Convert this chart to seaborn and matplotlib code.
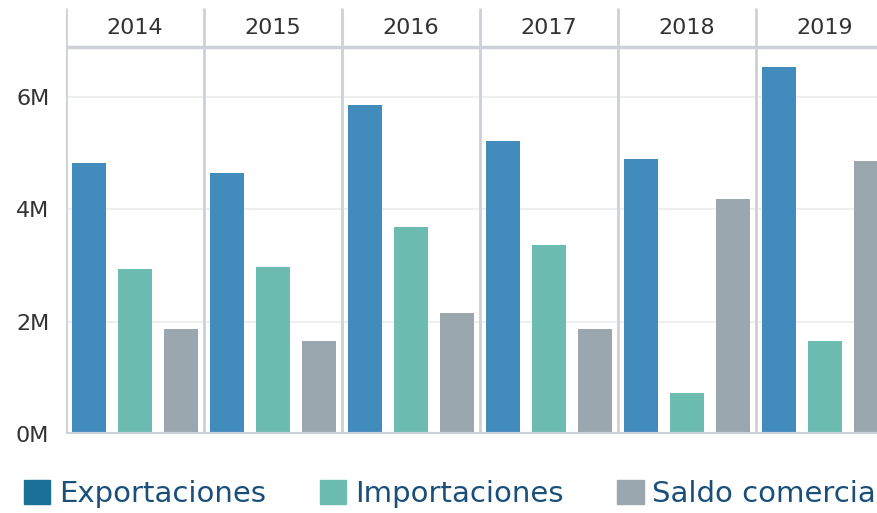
import matplotlib
matplotlib.use("Agg")
import numpy as np
import pandas as pd
import matplotlib.pyplot as plt
import seaborn as sns
from matplotlib.patches import Patch

years = ["2014", "2015", "2016", "2017", "2018", "2019"]
exportaciones = [4.82, 4.64, 5.85, 5.21, 4.89, 6.53]
importaciones = [2.94, 2.97, 3.68, 3.36, 0.73, 1.65]
saldo = [1.87, 1.65, 2.15, 1.87, 4.18, 4.86]
series = ["Exportaciones", "Importaciones", "Saldo comercia"]
bar_colors = ["#428bbd", "#6cbcb1", "#9aa7af"]
legend_colors = ["#1a7097", "#6cbcb1", "#9aa7af"]
yticks = [0, 2, 4, 6]
ytick_labels = ["0M", "2M", "4M", "6M"]

df = pd.DataFrame({
    "year": years * 3,
    "serie": np.repeat(series, len(years)),
    "valor": exportaciones + importaciones + saldo,
})

sns.set_style("white")
plt.rcParams["font.family"] = ["DejaVu Sans"]

W, H = 878, 513
fig = plt.figure(figsize=(W / 100, H / 100), dpi=100)
ax = fig.add_axes([66 / W, (H - 434) / H, (894 - 66) / W, (434 - 8) / H])

sns.barplot(data=df, x="year", y="valor", hue="serie", hue_order=series,
            palette=bar_colors, saturation=1, width=1.0, gap=0.24,
            linewidth=0, legend=False, ax=ax)

line_c = "#cdd0d6"
px = 56.2  # pixels per million
ymax = (434 - 8) / px
header_y = (434 - 47) / px
ax.set_xlim(-0.5, len(years) - 0.5)
ax.set_ylim(0, ymax)

ax.set_yticks(yticks)
ax.set_yticklabels(ytick_labels)
ax.set_axisbelow(True)
ax.grid(axis="y", color="#eef0f0", lw=1.5)
ax.tick_params(axis="y", length=8, width=1.5, color="#eef0f0", pad=4,
               labelsize=16, labelcolor="#333333")
ax.tick_params(axis="x", bottom=False, labelbottom=False)
ax.set_xlabel("")
ax.set_ylabel("")
for s in ax.spines.values():
    s.set_visible(False)

ax.axhline(0, color=line_c, lw=3, zorder=3)
ax.axhline(header_y, color=line_c, lw=2.5, zorder=3)
ax.vlines(np.arange(len(years) + 1) - 0.5, 0, ymax, color=line_c, lw=2, zorder=3)
for i, y in enumerate(years):
    ax.text(i, (header_y + ymax) / 2, y, ha="center", va="center",
            fontsize=16, color="#333333")

handles = [Patch(color=c, label=s) for c, s in zip(legend_colors, series)]
fig.legend(handles=handles, loc="center left", bbox_to_anchor=(24 / W, 19 / H),
           ncol=3, frameon=False, fontsize=21, labelcolor="#1a4f7a",
           handlelength=0.9, handleheight=0.9, handletextpad=0.3,
           columnspacing=1.85, borderpad=0, borderaxespad=0)

fig.savefig("out.png", dpi=100)
